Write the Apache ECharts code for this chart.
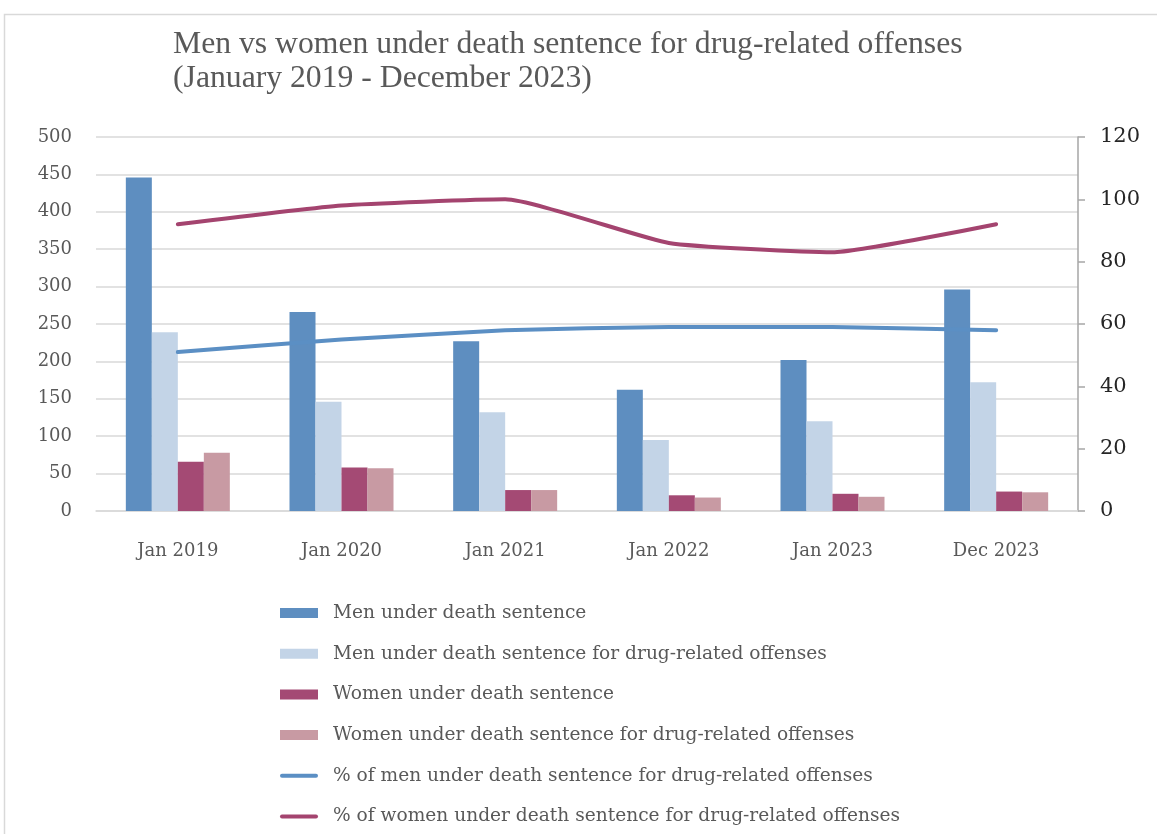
<!DOCTYPE html>
<html>
<head>
<meta charset="utf-8">
<style>
  html, body { margin: 0; padding: 0; background: #ffffff; }
  #chart { width: 1157px; height: 834px; }
</style>
<script src="https://cdn.jsdelivr.net/npm/echarts@6/dist/echarts.min.js"></script>
</head>
<body>
<div id="chart"></div>
<script>
// Categories and series values
const categories = ['Jan 2019', 'Jan 2020', 'Jan 2021', 'Jan 2022', 'Jan 2023', 'Dec 2023'];
const menTotal = [446, 266, 227, 162, 202, 296];
const menDrug = [239, 146, 132, 95, 120, 172];
const womenTotal = [66, 58, 28, 21, 23, 26];
const womenDrug = [78, 57, 28, 18, 19, 25];
const menDrugPct = [51, 55, 58, 59, 59, 58];
const womenDrugPct = [92, 98, 100, 86, 83, 92];

const seriesNames = [
  'Men under death sentence',
  'Men under death sentence for drug-related offenses',
  'Women under death sentence',
  'Women under death sentence for drug-related offenses',
  '% of men under death sentence for drug-related offenses',
  '% of women under death sentence for drug-related offenses'
];

const titleLines = ['Men vs women under death sentence for drug-related offenses', '(January 2019 - December 2023)'];

const FONT = 'DejaVu Serif';
const colors = {
  menTotal: '#5e8ec0',
  menDrug: '#c3d4e7',
  womenTotal: '#a44a74',
  womenDrug: '#c89aa3',
  menPct: '#5b8fc4',
  womenPct: '#a4446f'
};

// Thin rounded bar used as the legend marker of the line series
const LINE_ICON = 'path://M2,0 H36 A2,2 0 0 1 36,4 H2 A2,2 0 0 1 2,0 Z';

const chart = echarts.init(document.getElementById('chart'));

function barSeries(name, data, color) {
  return {
    name: name,
    type: 'bar',
    data: data,
    yAxisIndex: 0,
    barWidth: 26,
    barGap: '0%',
    itemStyle: { color: color },
    z: 2
  };
}

function lineSeries(name, data, color) {
  return {
    name: name,
    type: 'line',
    data: data,
    yAxisIndex: 1,
    symbol: 'none',
    showSymbol: false,
    smooth: 0.15,
    lineStyle: { color: color, width: 4, cap: 'round', join: 'round' },
    itemStyle: { color: color },
    z: 3
  };
}

chart.setOption({
  animation: false,
  backgroundColor: '#ffffff',
  textStyle: { fontFamily: FONT },
  graphic: [
    {
      type: 'rect',
      shape: { x: 4.5, y: 14.5, width: 1170, height: 840 },
      style: { fill: 'none', stroke: '#d9d9d9', lineWidth: 1.5 },
      z: -1
    }
  ],
  title: {
    text: titleLines.join('\n'),
    left: 168,
    top: 23,
    textStyle: {
      fontFamily: 'Liberation Serif',
      fontWeight: 'normal',
      fontSize: 31.7,
      lineHeight: 33.5,
      color: '#595959'
    }
  },
  legend: {
    orient: 'vertical',
    left: 275,
    top: 598,
    itemWidth: 38,
    itemHeight: 10,
    itemGap: 20.7,
    data: [
      { name: seriesNames[0], icon: 'rect' },
      { name: seriesNames[1], icon: 'rect' },
      { name: seriesNames[2], icon: 'rect' },
      { name: seriesNames[3], icon: 'rect' },
      { name: seriesNames[4], icon: LINE_ICON },
      { name: seriesNames[5], icon: LINE_ICON }
    ],
    textStyle: {
      fontFamily: FONT,
      fontSize: 18.6,
      lineHeight: 20,
      color: '#595959',
      padding: [0, 0, 0, 10]
    }
  },
  grid: {
    left: 96,
    right: 79,
    top: 137,
    bottom: 323,
    containLabel: false
  },
  xAxis: {
    type: 'category',
    data: categories,
    axisLine: { show: true, lineStyle: { color: '#d9d9d9', width: 1.5 } },
    axisTick: { show: false },
    axisLabel: {
      color: '#595959',
      fontFamily: FONT,
      fontSize: 18,
      margin: 31
    }
  },
  yAxis: [
    {
      type: 'value',
      min: 0,
      max: 500,
      interval: 50,
      position: 'left',
      axisLine: { show: false },
      axisTick: { show: false },
      splitLine: { show: true, lineStyle: { color: '#d9d9d9', width: 1.5 } },
      axisLabel: {
        color: '#595959',
        fontFamily: FONT,
        fontSize: 18,
        margin: 24
      }
    },
    {
      type: 'value',
      min: 0,
      max: 120,
      interval: 20,
      position: 'right',
      axisLine: { show: true, lineStyle: { color: '#a6a6a6', width: 1.5 } },
      axisTick: { show: true, length: 7, lineStyle: { color: '#a6a6a6', width: 1.5 } },
      splitLine: { show: false },
      axisLabel: {
        color: '#262626',
        fontFamily: FONT,
        fontSize: 21,
        margin: 22
      }
    }
  ],
  series: [
    barSeries(seriesNames[0], menTotal, colors.menTotal),
    barSeries(seriesNames[1], menDrug, colors.menDrug),
    barSeries(seriesNames[2], womenTotal, colors.womenTotal),
    barSeries(seriesNames[3], womenDrug, colors.womenDrug),
    lineSeries(seriesNames[4], menDrugPct, colors.menPct),
    lineSeries(seriesNames[5], womenDrugPct, colors.womenPct)
  ]
});
</script>
</body>
</html>
